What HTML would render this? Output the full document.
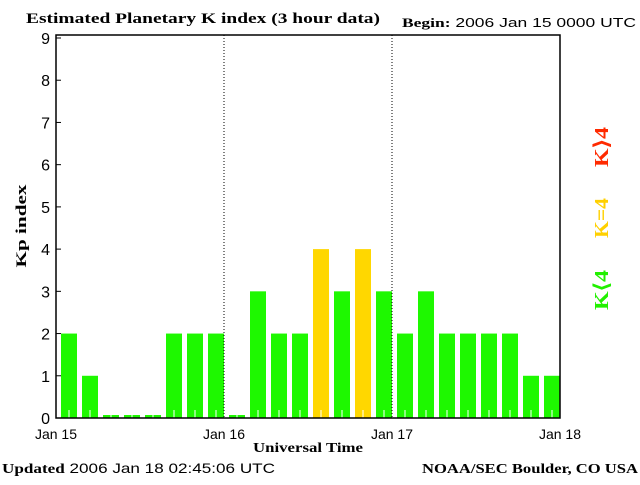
<!DOCTYPE html>
<html><head><meta charset="utf-8"><style>
body{margin:0;background:#fff}
svg text{font-family:"Liberation Sans",sans-serif}
.s{font-family:"Liberation Serif",serif;font-weight:bold}
</style></head><body>
<svg width="640" height="480" xmlns="http://www.w3.org/2000/svg">
<text class="s" x="26" y="23" font-size="15" textLength="354" lengthAdjust="spacingAndGlyphs">Estimated Planetary K index (3 hour data)</text>
<text x="402" y="27" font-size="13" textLength="234" lengthAdjust="spacingAndGlyphs"><tspan class="s">Begin:</tspan>  2006 Jan 15 0000 UTC</text>
<g id="bars"></g>
<g id="axes"></g>
<text class="s" x="26" y="226" font-size="15" transform="rotate(-90 26 226)" text-anchor="middle" textLength="83" lengthAdjust="spacingAndGlyphs">Kp index</text>
<text class="s" x="308" y="452" font-size="14" text-anchor="middle" textLength="110" lengthAdjust="spacingAndGlyphs">Universal Time</text>
<text x="2" y="473" font-size="14" textLength="273" lengthAdjust="spacingAndGlyphs"><tspan class="s">Updated</tspan> 2006 Jan 18 02:45:06 UTC</text>
<text class="s" x="638" y="473" font-size="14" text-anchor="end" textLength="216" lengthAdjust="spacingAndGlyphs">NOAA/SEC Boulder, CO USA</text>
<text class="s" x="608" y="147" font-size="20" fill="#ff2a00" text-anchor="middle" textLength="40" lengthAdjust="spacingAndGlyphs" transform="rotate(-90 608 147)">K⟩4</text>
<text class="s" x="608" y="218" font-size="20" fill="#ffd000" text-anchor="middle" textLength="40" lengthAdjust="spacingAndGlyphs" transform="rotate(-90 608 218)">K=4</text>
<text class="s" x="608" y="290" font-size="20" fill="#22f000" text-anchor="middle" textLength="40" lengthAdjust="spacingAndGlyphs" transform="rotate(-90 608 290)">K⟨4</text>
</svg>
<script>
const kpValues=[2,1,0,0,0,2,2,2,0,3,2,2,4,3,4,3,2,3,2,2,2,2,1,1];
const dayLabels=["Jan 15","Jan 16","Jan 17","Jan 18"];
const yTicks=[0,1,2,3,4,5,6,7,8,9];
const NS="http://www.w3.org/2000/svg";
const X0=56,X1=560,Y0=418,YT=35;
const xs=i=>X0+(X1-X0)*i/kpValues.length;
const ys=v=>Y0-v*(Y0-38)/9;
function mk(t,a,p){const e=document.createElementNS(NS,t);for(const k in a)e.setAttribute(k,a[k]);p.appendChild(e);return e;}
const bars=document.getElementById('bars'),axes=document.getElementById('axes');
kpValues.forEach((v,i)=>{
  const x=xs(i)+5,w=xs(i+1)-xs(i)-5;
  const top=v===0?Y0-3:ys(v);
  const col=v>4?'#ff2a00':v===4?'#ffd700':'#1ef800';
  const r=mk('rect',{x:x,y:top,width:w,height:Y0-top,fill:col},bars);
  
  
  mk('line',{x1:x+w/2,x2:x+w/2,y1:Y0-8,y2:Y0,stroke:'#fff','stroke-width':1},bars);
});
mk('rect',{x:X0,y:YT,width:X1-X0,height:Y0-YT,fill:'none',stroke:'#000','stroke-width':1.5},axes);
yTicks.forEach(t=>{
  const y=ys(t);
  mk('line',{x1:X0,x2:X0+5,y1:y,y2:y,stroke:'#000'},axes);
  const tx=mk('text',{x:50,y:y+6,'font-size':16,'text-anchor':'end'},axes);tx.textContent=t;
  
  
});
dayLabels.forEach((d,i)=>{
  const x=X0+(X1-X0)*i/3;
  if(i>0&&i<3) mk('line',{x1:x,x2:x,y1:YT,y2:Y0,stroke:'#000','stroke-dasharray':'1,2'},axes);
  const tx=mk('text',{x:x,y:439,'font-size':14,'text-anchor':'middle'},axes);tx.textContent=d;
  
  
});
</script>
</body></html>
